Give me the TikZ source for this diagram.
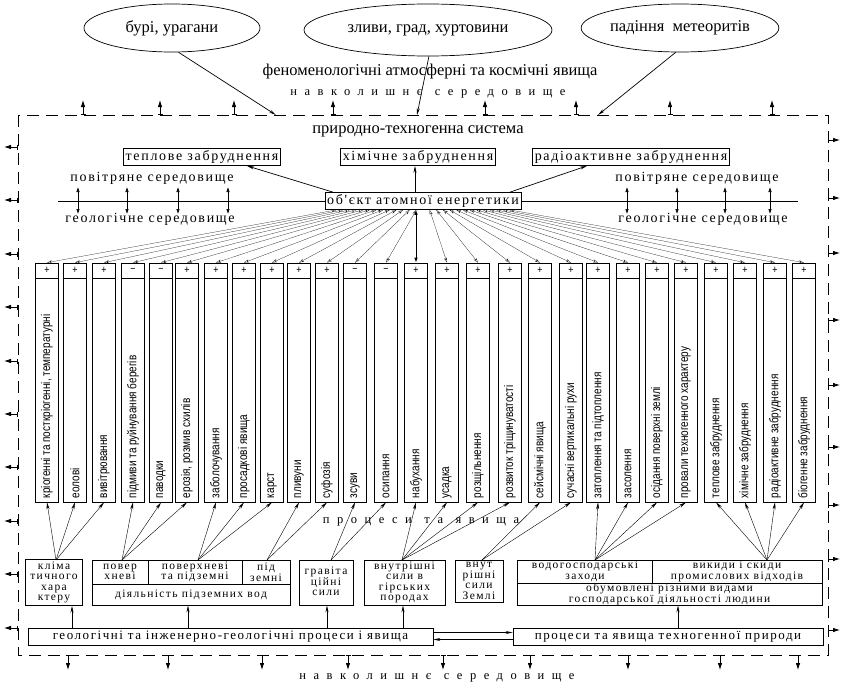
\documentclass[tikz,border=0pt]{standalone}
\usepackage{fontspec}
\setmainfont{Liberation Serif}
\newfontfamily\boxfont[LetterSpace=12]{Liberation Serif}
\newfontfamily\widefont[LetterSpace=60]{Liberation Serif}
\newfontfamily\colfont[FakeStretch=0.8]{Liberation Sans}
\usetikzlibrary{shapes.geometric,arrows.meta,calc}
\tikzset{
  env/.style={draw, ellipse, inner sep=0pt, font=\fontsize{16.5}{18}\selectfont},
  bigbox/.style={draw, inner sep=2pt, font=\boxfont\fontsize{14}{16}\selectfont},
  bigtxt/.style={inner sep=0pt, font=\boxfont\fontsize{14}{16}\selectfont},
  geobox/.style={draw, inner sep=0pt, minimum height=17pt, font=\boxfont\fontsize{13}{15}\selectfont},
  smalltxt/.style={inner sep=0pt, align=center, font=\boxfont\fontsize{11.5}{10.5}\selectfont},
  widetxt/.style={inner sep=0pt, font=\widefont\fontsize{12.5}{14}\selectfont},
  colbox/.style={draw, minimum width=23pt, minimum height=239pt, inner sep=0pt},
  collab/.style={rotate=90, anchor=west, inner sep=0pt, font=\colfont\fontsize{12.5}{12.5}\selectfont},
  signtxt/.style={inner sep=0pt, font=\colfont\fontsize{11}{11}\selectfont},
  envarr/.style={-{Stealth[length=7pt,width=3pt]}},
  outarr/.style={{Bar[width=5pt]}-{Latex[length=7pt,width=4.5pt]}, thick},
  dblarr/.style={{Latex[length=5pt,width=3.5pt]}-{Latex[length=5pt,width=3.5pt]}, semithick},
  fanarr/.style={{Stealth[length=5pt,width=3pt,open]}-{Stealth[length=5pt,width=3pt,open]}, very thin},
}
\begin{document}
\begin{tikzpicture}[x=1pt, y=-1pt, line width=0.7pt]
  \useasboundingbox (0,0) rectangle (841,688);
  \draw[dash pattern=on 12pt off 7pt] (18,115) rectangle (828,655);

  \node[env, minimum width=176pt, minimum height=48pt] (e1) at (172,28) {бурі, урагани};
  \node[env, minimum width=248pt, minimum height=52pt] (e2) at (428,30) {зливи, град, хуртовини};
  \node[env, minimum width=182pt, minimum height=48pt] (e3) at (680,28) {падіння\ \ метеоритів};
  \node[font=\fontsize{16.5}{18}\selectfont, inner sep=0pt] (phen) at (430,72) {феноменологічні атмосферні та космічні явища};
  \node[widetxt] (envtop) at (428,94) {навколишнє\quad середовище};
  \coordinate (in1) at (276,115);
  \coordinate (in2) at (417,115);
  \coordinate (in3) at (598,115);
  \draw[envarr] (e1.-75) -- (in1);
  \draw[envarr] (e2.-88) -- (in2);
  \draw[envarr] (e3.-100) -- (in3);

  \foreach \x in {83,160,234,333,485,576,670,772} \draw[outarr] (\x,115) -- (\x,100);
  \foreach \x in {68,168,262,348,443,530,628,720,798} \draw[outarr] (\x,655) -- (\x,670);
  \foreach \y in {147,200,254,307,361,414,467,521,574,628} \draw[outarr] (18,\y) -- (4,\y);
  \foreach \y in {140,198,253,320,385,447,505,559,630} \draw[outarr] (828,\y) -- (840,\y);

  \node[font=\fontsize{16.5}{18}\selectfont, inner sep=0pt] (pts) at (418,131) {природно-техногенна система};
  \node[bigbox] (tep) at (202,157) {теплове забруднення};
  \node[bigbox] (him) at (418,157) {хімічне забруднення};
  \node[bigbox] (rad) at (631,157) {радіоактивне забруднення};
  \node[bigbox] (obj) at (423,201) {об'єкт атомної енергетики};
  \draw (58,201) -- (obj.west);
  \draw (obj.east) -- (798,201);
  \foreach \x in {78,127,178,228,627,677,725,770} \draw[dblarr] (\x,187) -- (\x,214);
  \node[bigtxt] (povl) at (152,178) {повітряне середовище};
  \node[bigtxt] (povr) at (697,178) {повітряне середовище};
  \node[bigtxt] (geol) at (150,219) {геологічне середовище};
  \node[bigtxt] (geor) at (703,219) {геологічне середовище};
  \draw[envarr] ([xshift=-90pt]obj.north) -- ([xshift=45pt]tep.south);
  \draw[envarr] ([xshift=-8pt]obj.north) -- ([xshift=-3pt]him.south);
  \draw[envarr] ([xshift=87pt]obj.north) -- ([xshift=-44pt]rad.south);

  \foreach \x/\s/\t [count=\i] in {47/+/{кріогенні та посткріогенні, температурні}, 75/+/еолові,
      104/+/вивітрювання, 133/−/підмиви та руйнування берегів, 161/−/паводки,
      187/+/{ерозія, розмив схилів}, 216/+/заболочування, 244/+/просадкові явища, 272/+/карст,
      299/+/пливуни, 327/+/суфозія, 355/−/зсуви, 386/−/осипання, 416/+/набухання, 447/+/усадка,
      478/+/розщільнення, 510/+/розвиток тріщинуватості, 540/+/сейсмічні явища,
      571/+/сучасні вертикальні рухи, 598/+/затоплення та підтоплення, 628/+/засолення,
      657/+/осідання поверхні землі, 686/+/провали техногенного характеру,
      716/+/теплове забруднення, 745/+/хімічне забруднення, 775/+/радіоактивне забруднення,
      804/+/біогенне забруднення}
  {
    \node[colbox] (c\i) at (\x,382.5) {};
    \draw ([yshift=-16pt]c\i.north west) -- ([yshift=-16pt]c\i.north east);
    \node[signtxt] (s\i) at ([yshift=-8pt]c\i.north) {\s};
    \node[collab] (t\i) at ([yshift=4pt]c\i.south) {\t};
  }
  \foreach \i [evaluate=\i as \f using 0.06+0.88*(\i-1)/26] in {1,...,13,15,16,...,27}
    \draw[fanarr] ($(obj.south west)!\f!(obj.south east)$) -- (c\i.north);
  \draw[dblarr, thick] (obj.south -| c14.north) -- (c14.north);

  \node[widetxt] (proc) at (421,522) {процеси\quad та\quad явища};

  % bottom row
  \node[draw, smalltxt, minimum width=57pt, minimum height=46pt] (klim) at (54,582.5) {кліма\\тичного\\хара\\ктеру};
  \node[draw, minimum width=198pt, minimum height=45pt] (wat) at (191,582.5) {};
  \draw (92,584) -- (290,584);
  \draw (148,560) -- (148,584);
  \draw (242,560) -- (242,584);
  \node[smalltxt] (w1) at (120,572) {повер\\хневі};
  \node[smalltxt] (w2) at (195,572) {поверхневі\\та підземні};
  \node[smalltxt] (w3) at (266,572) {під\\земні};
  \node[smalltxt] (w4) at (191,595) {діяльність підземних вод};
  \node[draw, minimum width=54pt, minimum height=45pt] (grav) at (326,582.5) {};
  \node[smalltxt, anchor=north] (gravt) at ([yshift=-7pt]grav.north) {гравіта\\ційні\\сили};
  \node[draw, minimum width=81pt, minimum height=45pt] (vnut) at (404.5,582.5) {};
  \node[smalltxt] (vnutt) at (vnut) {внутрішні\\сили в\\гірських\\породах};
  \node[draw, minimum width=48pt, minimum height=42pt] (zeml) at (479,581) {};
  \node[smalltxt] (zemlt) at (zeml) {внут\\рішні\\сили\\Землі};
  \node[draw, minimum width=305pt, minimum height=45pt] (hum) at (669.5,582.5) {};
  \draw (517,583) -- (822,583);
  \draw (652,560) -- (652,583);
  \node[smalltxt] (h1) at (585,571.5) {водогосподарські\\заходи};
  \node[smalltxt] (h2) at (737,571.5) {викиди і скиди\\промислових відходів};
  \node[smalltxt] (h3) at (669.5,594) {обумовлені різними видами\\господарської діяльності людини};

  \coordinate (sk) at (56,560);
  \coordinate (sw1) at (122,560);
  \coordinate (sw2) at (198,560);
  \coordinate (sw3) at (267,560);
  \coordinate (sg) at (331,560);
  \coordinate (sv) at (402,560);
  \coordinate (sz) at (482,560);
  \coordinate (sh1) at (595,560);
  \coordinate (sh2) at (767,560);
  \foreach \s/\list in {sk/{1,2,3}, sw1/{4,5,6}, sw2/{7,8,9}, sw3/{10,11}, sg/{12,13},
      sv/{14,15,16,17}, sz/{18,19}, sh1/{20,21,22,23}, sh2/{24,25,26,27}}
    \foreach \j in \list \draw[envarr, thin] (\s) -- (c\j.south);

  \node[geobox, minimum width=405pt] (geo) at (230.5,636.5) {геологічні та інженерно-геологічні процеси і явища};
  \node[geobox, minimum width=310pt] (tech) at (668,636.5) {процеси та явища техногенної природи};
  \draw[envarr] ([yshift=4pt]geo.east) -- ([yshift=4pt]tech.west);
  \draw[envarr] ([yshift=-3pt]tech.west) -- ([yshift=-3pt]geo.east);
  \draw[envarr] (geo.north -| 72,0) -- (klim.south -| 72,0);
  \draw[envarr] (geo.north -| 188,0) -- (wat.south -| 188,0);
  \draw[envarr] (geo.north -| 327,0) -- (grav.south -| 327,0);
  \draw[envarr] (geo.north -| 403,0) -- (vnut.south -| 403,0);
  \draw[envarr] (tech.north -| 678,0) -- (hum.south -| 678,0);

  \node[widetxt] (envbot) at (437,678) {навколишнє\quad середовище};
\end{tikzpicture}
\end{document}
